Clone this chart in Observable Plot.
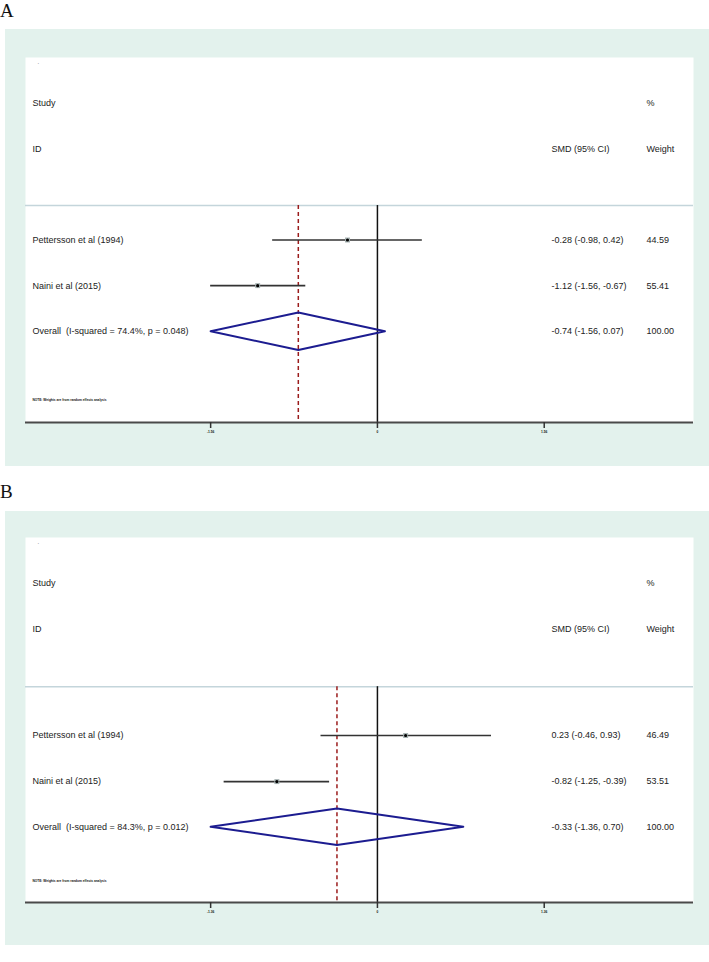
<!DOCTYPE html>
<html><head><meta charset="utf-8">
<script src="https://cdn.jsdelivr.net/npm/d3@7"></script>
<script src="https://cdn.jsdelivr.net/npm/@observablehq/plot@0.6"></script>
<style>
html,body{margin:0;padding:0;background:#fff;width:709px;height:962px;overflow:hidden;position:relative}
.lbl{position:absolute;left:0;font-family:"Liberation Serif","Times New Roman",serif;font-size:19px;color:#111;line-height:1}
.panel{position:absolute;left:5px;width:704px;background:#e3f2ed}
.panel svg{display:block}
.panel svg text{white-space:pre}
</style></head><body>
<div class="lbl" style="top:1px">A</div>
<div class="panel" id="pA" style="top:29px;height:437px"></div>
<div class="lbl" style="top:482px">B</div>
<div class="panel" id="pB" style="top:511px;height:434px"></div>
<script>
// ---- data ----
const studies = ["Pettersson et al (1994)", "Naini et al (2015)"];

const smdA = [-0.28, -1.12];
const loA = [-0.98, -1.56];
const hiA = [0.42, -0.67];
const weightA = ["44.59", "55.41"];
const overallA = [-0.74, -1.56, 0.07];
const overallLabelA = "Overall  (I-squared = 74.4%, p = 0.048)";
const tickValsA = [-1.56, 0, 1.56];
const tickLabelsA = ["-1.56", "0", "1.56"];

const smdB = [0.23, -0.82];
const loB = [-0.46, -1.25];
const hiB = [0.93, -0.39];
const weightB = ["46.49", "53.51"];
const overallB = [-0.33, -1.36, 0.70];
const overallLabelB = "Overall  (I-squared = 84.3%, p = 0.012)";
const tickValsB = [-1.36, 0, 1.36];
const tickLabelsB = ["-1.36", "0", "1.36"];

const headerTop = ["Study", "%"];
const headerBottom = ["ID", "SMD (95% CI)", "Weight"];
const overallWeight = "100.00";
const noteText = "NOTE: Weights are from random effects analysis";

// ---- drawing ----
const f2 = v => v.toFixed(2);

function forest(el, cfg) {
  const L = cfg.layout;
  const m = cfg.ticks[cfg.ticks.length - 1];
  const rows = cfg.studies.map((s, i) => ({
    study: s, est: cfg.smd[i], lo: cfg.lo[i], hi: cfg.hi[i], w: cfg.weight[i], y: L.rowY[i]
  }));
  const [oe, ol, oh] = cfg.overall;
  const h = L.diamondH;
  const diamond = [
    {x: ol, y: L.overallY}, {x: oe, y: L.overallY - h}, {x: oh, y: L.overallY},
    {x: oe, y: L.overallY + h}, {x: ol, y: L.overallY}
  ];
  const col1 = [
    {t: headerTop[0], y: 0}, {t: headerBottom[0], y: 1},
    ...rows.map(r => ({t: r.study, y: r.y})),
    {t: cfg.overallLabel, y: L.overallY}
  ];
  const col2 = [
    {t: headerBottom[1], y: 1},
    ...rows.map(r => ({t: `${f2(r.est)} (${f2(r.lo)}, ${f2(r.hi)})`, y: r.y})),
    {t: `${f2(oe)} (${f2(ol)}, ${f2(oh)})`, y: L.overallY}
  ];
  const col3 = [
    {t: headerTop[1], y: 0}, {t: headerBottom[2], y: 1},
    ...rows.map(r => ({t: r.w, y: r.y})),
    {t: overallWeight, y: L.overallY}
  ];
  const tickMap = new Map(cfg.ticks.map((v, i) => [v, cfg.tickLabels[i]]));
  const plot = Plot.plot({
    width: 704, height: L.height,
    marginLeft: 20, marginRight: 16, marginTop: L.marginTop, marginBottom: L.marginBottom,
    style: {fontFamily: "'Liberation Sans', Arial, sans-serif", fontSize: "9px", color: "#222", background: "transparent"},
    x: {domain: [-2.11 * m, 1.895 * m], axis: null},
    y: {domain: [-1, 7], reverse: true, axis: null},
    marks: [
      Plot.frame({fill: "white", stroke: "none"}),
      Plot.ruleY([L.headerY], {stroke: "#c4d5db", strokeWidth: 1.6}),
      Plot.ruleX([0], {y1: L.headerY, y2: 7, stroke: "#111", strokeWidth: 1.5}),
      Plot.ruleX([oe], {y1: L.headerY, y2: 7, stroke: "#9b1c1c", strokeWidth: 1.5, strokeDasharray: "4,3"}),
      Plot.ruleY(rows, {y: "y", x1: "lo", x2: "hi", stroke: "#333", strokeWidth: 1.6}),
      Plot.dot(rows, {x: "est", y: "y", symbol: "square", r: 2.8, fill: "#a5b1b1", stroke: "none"}),
      Plot.dot(rows, {x: "est", y: "y", r: 1.6, fill: "#000", stroke: "none"}),
      Plot.line(diamond, {x: "x", y: "y", stroke: "#1c1c90", strokeWidth: 2, curve: "linear"}),
      Plot.text([{t: ".", y: -0.9}], {y: "y", text: "t", frameAnchor: "left", textAnchor: "start", dx: 12, fill: "#444", fontSize: 6}),
      Plot.text(col1, {y: "y", text: "t", frameAnchor: "left", textAnchor: "start", dx: 7, fill: "#222"}),
      Plot.text(col2, {y: "y", text: "t", frameAnchor: "left", textAnchor: "start", dx: 526, fill: "#222"}),
      Plot.text(col3, {y: "y", text: "t", frameAnchor: "left", textAnchor: "start", dx: 621, fill: "#222"}),
      Plot.text([{t: noteText, y: L.noteY}], {y: "y", text: "t", frameAnchor: "left", textAnchor: "start", dx: 7, fontSize: 3.2, fontWeight: "bold", fill: "#111"}),
      Plot.ruleY([7], {stroke: "#4a4a4a", strokeWidth: 2}),
      Plot.axisX({ticks: cfg.ticks, tickFormat: d => tickMap.get(d), tickSize: 6, tickPadding: 2.5,
        fontSize: 3.2, fontWeight: "bold", stroke: "#333", strokeWidth: 1.5, fill: "#111"})
    ]
  });
  document.getElementById(el).appendChild(plot);
}

forest("pA", {
  studies, smd: smdA, lo: loA, hi: hiA, weight: weightA, overall: overallA,
  overallLabel: overallLabelA, ticks: tickValsA, tickLabels: tickLabelsA,
  layout: {height: 437, marginTop: 28, marginBottom: 44, headerY: 2.245, rowY: [3, 4], overallY: 5, noteY: 6.5, diamondH: 0.41}
});
forest("pB", {
  studies, smd: smdB, lo: loB, hi: hiB, weight: weightB, overall: overallB,
  overallLabel: overallLabelB, ticks: tickValsB, tickLabels: tickLabelsB,
  layout: {height: 434, marginTop: 26, marginBottom: 43, headerY: 2.27, rowY: [3.34, 4.35], overallY: 5.34, noteY: 6.52, diamondH: 0.4}
});
</script>
</body></html>
